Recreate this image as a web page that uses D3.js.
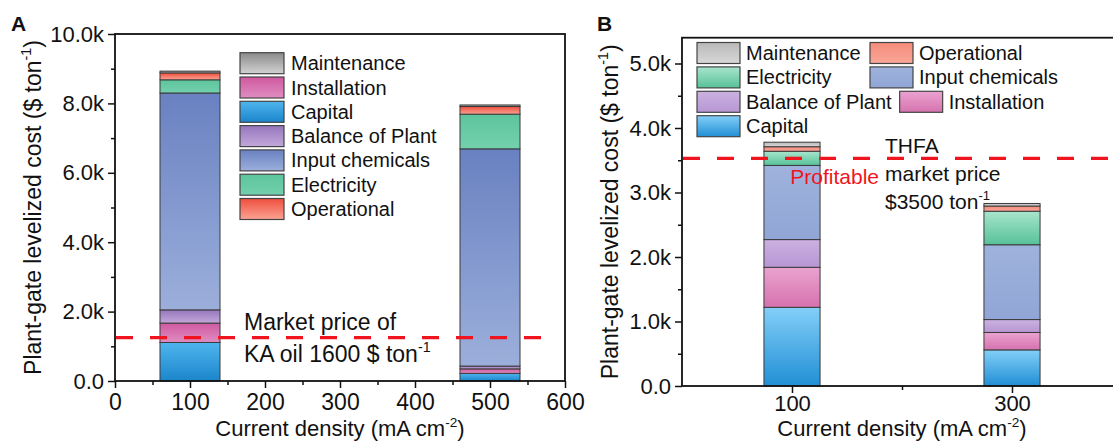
<!DOCTYPE html>
<html>
<head>
<meta charset="utf-8">
<script src="https://cdn.jsdelivr.net/npm/d3@7"></script>
<style>
  body { margin: 0; background: #fff; }
  text { font-family: "Liberation Sans", Arial, sans-serif; fill: #111; }
</style>
</head>
<body>
<script>
// cost components, bottom to top of each stack
var keys = ["Capital", "Installation", "Balance of Plant", "Input chemicals", "Electricity", "Operational", "Maintenance"];

/****** panel A : KA oil ******/
var densityA = [100, 500];
var capitalA = [1110, 220];
var installationA = [560, 130];
var balanceA = [380, 80];
var chemicalsA = [6250, 6260];
var electricityA = [380, 1000];
var operationalA = [200, 220];
var maintenanceA = [50, 45];
var marketA = 1250;
var legendA = ["Maintenance", "Installation", "Capital", "Balance of Plant", "Input chemicals", "Electricity", "Operational"];
var yTicksA = [0, 2000, 4000, 6000, 8000, 10000];
var xTicksA = [0, 100, 200, 300, 400, 500, 600];

/****** panel B : THFA ******/
var densityB = [100, 300];
var capitalB = [1220, 560];
var installationB = [620, 270];
var balanceB = [430, 200];
var chemicalsB = [1150, 1160];
var electricityB = [220, 520];
var operationalB = [70, 80];
var maintenanceB = [70, 40];
var marketB = 3530;
var legendB = [["Maintenance", "Operational"], ["Electricity", "Input chemicals"], ["Balance of Plant", "Installation"], ["Capital"]];
var yTicksB = [0, 1000, 2000, 3000, 4000, 5000];
var xTicksB = [100, 300];

// gradient top -> bottom
var colorsA = {
    "Maintenance": ["#8a8a8a", "#d2d2d2"],
    "Installation": ["#d059a0", "#e08dc1"],
    "Capital": ["#4fb5ee", "#1b85cb"],
    "Balance of Plant": ["#9676bd", "#c2a8da"],
    "Input chemicals": ["#6981c1", "#9cafdb"],
    "Electricity": ["#5cc59d", "#74d0ae"],
    "Operational": ["#ef4e3d", "#fba393"]
};
var colorsB = {
    "Maintenance": ["#b9b9b9", "#d8d8d8"],
    "Operational": ["#f58c7b", "#f9a698"],
    "Electricity": ["#a8e5cd", "#57c199"],
    "Input chemicals": ["#9fb2dd", "#91a6d6"],
    "Balance of Plant": ["#cbb1e1", "#b797d3"],
    "Installation": ["#eaa3d0", "#d672af"],
    "Capital": ["#83cff8", "#218fd5"]
};

var width = 1113, height = 441;
var svg = d3.select("body").append("svg")
    .attr("width", width)
    .attr("height", height);
var defs = svg.append("defs");

function makeGradients(prefix, colors) {
    Object.keys(colors).forEach(function (k, i) {
        var g = defs.append("linearGradient")
            .attr("id", prefix + i)
            .attr("x1", 0).attr("y1", 0).attr("x2", 0).attr("y2", 1);
        g.append("stop").attr("offset", "0%").attr("stop-color", colors[k][0]);
        g.append("stop").attr("offset", "100%").attr("stop-color", colors[k][1]);
    });
    return function (k) { return "url(#" + prefix + Object.keys(colors).indexOf(k) + ")"; };
}
var fillA = makeGradients("gA", colorsA);
var fillB = makeGradients("gB", colorsB);

function kFormat(d) {
    return d === 0 ? "0.0" : (d / 1000).toFixed(1) + "k";
}

function rows(xs, cols) {
    return xs.map(function (x, i) {
        var r = {x: x};
        keys.forEach(function (k, j) { r[k] = cols[j][i]; });
        return r;
    });
}

function superText(sel, before, sup, after, size) {
    sel.append("tspan").text(before);
    sel.append("tspan").attr("dy", -size * 0.42).style("font-size", (size * 0.62) + "px").text(sup);
    sel.append("tspan").attr("dy", size * 0.42).text(after);
}

function drawPanel(p) {
    var g = svg.append("g");
    var x = p.x, y = p.y;

    // stacked bars
    var series = d3.stack().keys(keys)(rows(p.density, p.cols));
    g.selectAll("g.layer")
        .data(series)
        .enter().append("g")
        .attr("class", "layer")
        .attr("fill", function (d) { return p.fill(d.key); })
        .selectAll("rect")
        .data(function (d) { return d; })
        .enter().append("rect")
        .attr("x", function (d) { return x(d.data.x - p.barW / 2); })
        .attr("width", function (d) { return x(d.data.x + p.barW / 2) - x(d.data.x - p.barW / 2); })
        .attr("y", function (d) { return y(d[1]); })
        .attr("height", function (d) { return y(d[0]) - y(d[1]); })
        .attr("stroke", "#3a3a3a")
        .attr("stroke-width", 1);

    // frame
    var x0 = x.range()[0], x1 = x.range()[1], yb = y.range()[0], yt = y.range()[1];
    g.append("rect")
        .attr("x", x0).attr("y", yt)
        .attr("width", x1 - x0).attr("height", yb - yt)
        .attr("fill", "none").attr("stroke", "#111").attr("stroke-width", 1.8);

    // axes
    var ax = g.append("g").attr("transform", "translate(" + x0 + ",0)")
        .call(d3.axisLeft(y).tickValues(p.yTicks).tickFormat(kFormat).tickSize(7).tickPadding(4));
    g.append("g").attr("transform", "translate(" + x0 + ",0)")
        .call(d3.axisLeft(y).tickValues(p.yMinor).tickFormat("").tickSize(4));
    var bx = g.append("g").attr("transform", "translate(0," + yb + ")")
        .call(d3.axisBottom(x).tickValues(p.xTicks).tickFormat(d3.format("d")).tickSize(7).tickPadding(p.xPad));
    g.append("g").attr("transform", "translate(0," + yb + ")")
        .call(d3.axisBottom(x).tickValues(p.xMinor).tickFormat("").tickSize(4));
    g.selectAll(".domain").remove();
    g.selectAll(".tick line").attr("stroke", "#111").attr("stroke-width", 1.5);
    ax.selectAll("text").style("font-size", "22px").attr("fill", "#111");
    bx.selectAll("text").style("font-size", p.xFont + "px").attr("fill", "#111");

    // market price line
    g.append("line")
        .attr("x1", x0 + 1).attr("x2", p.lineEnd)
        .attr("y1", y(p.market)).attr("y2", y(p.market))
        .attr("stroke", "#f0141e").attr("stroke-width", 3.2)
        .attr("stroke-dasharray", "17,17");

    // axis titles
    var yt1 = g.append("text")
        .attr("transform", "translate(" + p.yTitleX + "," + ((yb + yt) / 2) + ") rotate(-90)")
        .attr("text-anchor", "middle")
        .style("font-size", "23px");
    superText(yt1, "Plant-gate levelized cost ($ ton", "-1", ")", 23);
    var xt1 = g.append("text")
        .attr("x", p.xTitleX).attr("y", 436)
        .attr("text-anchor", "middle")
        .style("font-size", "22px");
    superText(xt1, "Current density (mA cm", "-2", ")", 22);

    g.append("text")
        .attr("x", p.letterX).attr("y", 31)
        .style("font-size", "21px").style("font-weight", "bold")
        .text(p.letter);
    return g;
}

var xA = d3.scaleLinear().domain([0, 600]).range([115, 565]);
var yA = d3.scaleLinear().domain([0, 10000]).range([381, 34]);
var gA = drawPanel({
    x: xA, y: yA, barW: 80, fill: fillA,
    density: densityA,
    cols: [capitalA, installationA, balanceA, chemicalsA, electricityA, operationalA, maintenanceA],
    yTicks: yTicksA, yMinor: d3.range(1000, 10000, 2000),
    xTicks: xTicksA, xMinor: d3.range(50, 600, 100), xPad: 6, xFont: 23,
    market: marketA, lineEnd: 543,
    yTitleX: 41, xTitleX: 340, letter: "A", letterX: 11
});

var xB = d3.scaleLinear().domain([0, 400]).range([682, 1122]);
var yB = d3.scaleLinear().domain([0, 5400]).range([386, 37.7]);
var gB = drawPanel({
    x: xB, y: yB, barW: 51, fill: fillB,
    density: densityB,
    cols: [capitalB, installationB, balanceB, chemicalsB, electricityB, operationalB, maintenanceB],
    yTicks: yTicksB, yMinor: d3.range(500, 5400, 1000),
    xTicks: xTicksB, xMinor: [200], xPad: 2, xFont: 22,
    market: marketB, lineEnd: 1113,
    yTitleX: 618, xTitleX: 902, letter: "B", letterX: 597
});

/****** legends ******/
var boxW = 44, boxH = 21;
var legA = gA.append("g");
legendA.forEach(function (k, i) {
    var yy = 52.7 + i * 24.3;
    legA.append("rect").attr("x", 240).attr("y", yy).attr("width", boxW).attr("height", boxH)
        .attr("fill", fillA(k)).attr("stroke", "#444").attr("stroke-width", 1.2);
    legA.append("text").attr("x", 291).attr("y", yy + boxH / 2 + 7)
        .style("font-size", "20px").text(k);
});

var legB = gB.append("g");
legendB.forEach(function (row, i) {
    var yy = 42.5 + i * 24.4;
    var xx = 697;
    row.forEach(function (k, j) {
        if (j > 0) xx = Math.max(870, xx);
        legB.append("rect").attr("x", xx).attr("y", yy).attr("width", boxW - 1).attr("height", boxH)
            .attr("fill", fillB(k)).attr("stroke", "#444").attr("stroke-width", 1.2);
        var t = legB.append("text").attr("x", xx + 49).attr("y", yy + boxH / 2 + 7)
            .style("font-size", "20px").text(k);
        xx = xx + 49 + t.node().getComputedTextLength() + 8;
    });
});

/****** annotations ******/
gA.append("text").attr("x", 244).attr("y", 329.5).style("font-size", "23px").text("Market price of");
superText(gA.append("text").attr("x", 244).attr("y", 362).style("font-size", "23px"),
    "KA oil 1600 $ ton", "-1", "", 23);

gB.append("text").attr("x", 885).attr("y", 153).style("font-size", "21px").text("THFA");
gB.append("text").attr("x", 885).attr("y", 180.5).style("font-size", "21px").text("market price");
superText(gB.append("text").attr("x", 885).attr("y", 208.5).style("font-size", "21px"),
    "$3500 ton", "-1", "", 21);
gB.append("text").attr("x", 879).attr("y", 183.5).attr("text-anchor", "end")
    .style("font-size", "21px").style("fill", "#f0141e").text("Profitable");
</script>
</body>
</html>
